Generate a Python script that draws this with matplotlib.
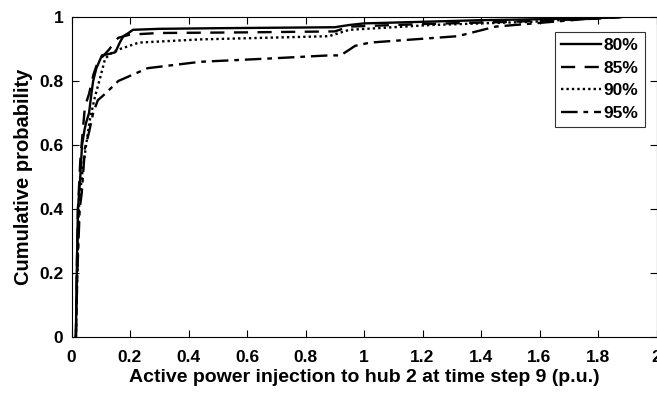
import matplotlib
matplotlib.use("Agg")
import matplotlib.pyplot as plt

plt.rcParams['font.family'] = ['Liberation Sans', 'DejaVu Sans']
plt.rcParams['font.weight'] = 'bold'

labels = ["80%", "85%", "90%", "95%"]

x80 = [0.015, 0.018, 0.022, 0.030, 0.036, 0.045, 0.050, 0.060, 0.068, 0.074, 0.085, 0.104, 0.130, 0.150,
       0.165, 0.177, 0.195, 0.21, 0.30, 0.50, 0.90, 0.95, 1.00, 1.20, 1.40, 1.60, 1.80, 1.88]
y80 = [0, 0.2, 0.4, 0.5, 0.6, 0.65, 0.67, 0.70, 0.76, 0.80, 0.84, 0.88, 0.885, 0.89,
       0.92, 0.94, 0.95, 0.96, 0.963, 0.965, 0.968, 0.975, 0.98, 0.985, 0.99, 0.993, 0.997, 1.0]

x85 = [0.015, 0.018, 0.022, 0.030, 0.040, 0.046, 0.06, 0.075, 0.09, 0.11, 0.13, 0.145, 0.16, 0.20,
       0.30, 0.60, 0.90, 0.95, 1.2, 1.5, 1.8, 1.88]
y85 = [0, 0.2, 0.4, 0.55, 0.66, 0.72, 0.76, 0.82, 0.86, 0.88, 0.9, 0.92, 0.935, 0.945,
       0.95, 0.952, 0.955, 0.97, 0.978, 0.985, 0.995, 1.0]

x90 = [0.015, 0.02, 0.025, 0.035, 0.05, 0.063, 0.08, 0.098, 0.115, 0.14, 0.166, 0.23, 0.44, 0.88,
       0.95, 1.23, 1.57, 1.8, 1.88]
y90 = [0, 0.2, 0.4, 0.5, 0.6, 0.68, 0.75, 0.81, 0.87, 0.89, 0.90, 0.92, 0.93, 0.94,
       0.96, 0.975, 0.985, 0.997, 1.0]

x95 = [0.015, 0.02, 0.028, 0.035, 0.046, 0.06, 0.074, 0.09, 0.115, 0.16, 0.26, 0.44, 0.67, 0.88,
       0.92, 0.97, 1.02, 1.32, 1.45, 1.8, 1.88]
y95 = [0, 0.2, 0.4, 0.45, 0.59, 0.64, 0.70, 0.74, 0.76, 0.80, 0.84, 0.86, 0.87, 0.88,
       0.88, 0.91, 0.92, 0.94, 0.97, 0.997, 1.0]

xticks = [0, 0.2, 0.4, 0.6, 0.8, 1, 1.2, 1.4, 1.6, 1.8, 2]
xticklabels = ["0", "0.2", "0.4", "0.6", "0.8", "1", "1.2", "1.4", "1.6", "1.8", "2"]
yticks = [0, 0.2, 0.4, 0.6, 0.8, 1]
yticklabels = ["0", "0.2", "0.4", "0.6", "0.8", "1"]

fig = plt.figure(figsize=(6.57, 3.94), dpi=100)
ax = fig.add_axes([71.5/657, 57/394, 585/657, 320/394])

styles = ['-', (0, (6, 4)), (0, (1, 1.3)), (0, (7, 2.5, 2, 2.5))]
for xs, ys, lab, ls in zip([x80, x85, x90, x95], [y80, y85, y90, y95], labels, styles):
    ax.plot(xs, ys, color='black', linestyle=ls, linewidth=1.7, label=lab)

ax.set_xlim(0, 2)
ax.set_ylim(0, 1)
ax.set_xticks(xticks)
ax.set_xticklabels(xticklabels)
ax.set_yticks(yticks)
ax.set_yticklabels(yticklabels)
ax.tick_params(direction='in', top=True, right=True, labelsize=12.5, length=5, width=0.8)
ax.tick_params(axis='x', pad=9)
ax.tick_params(axis='y', pad=6)
for lbl in ax.get_xticklabels() + ax.get_yticklabels():
    lbl.set_fontweight('bold')
for s in ax.spines.values():
    s.set_linewidth(0.8)

ax.set_xlabel("Active power injection to hub 2 at time step 9 (p.u.)", fontsize=14, fontweight='bold', labelpad=3)
ax.set_ylabel("Cumulative probability", fontsize=14.5, fontweight='bold', labelpad=4)

leg = ax.legend(loc='upper right', bbox_to_anchor=(0.98, 0.953), fontsize=12.5, frameon=True,
                fancybox=False, edgecolor='black', handlelength=2.3, handletextpad=0.15,
                borderpad=0.35, labelspacing=0.42, borderaxespad=0)
leg.get_frame().set_linewidth(0.8)
for t in leg.get_texts():
    t.set_fontweight('bold')

fig.savefig("out.png", dpi=100)
